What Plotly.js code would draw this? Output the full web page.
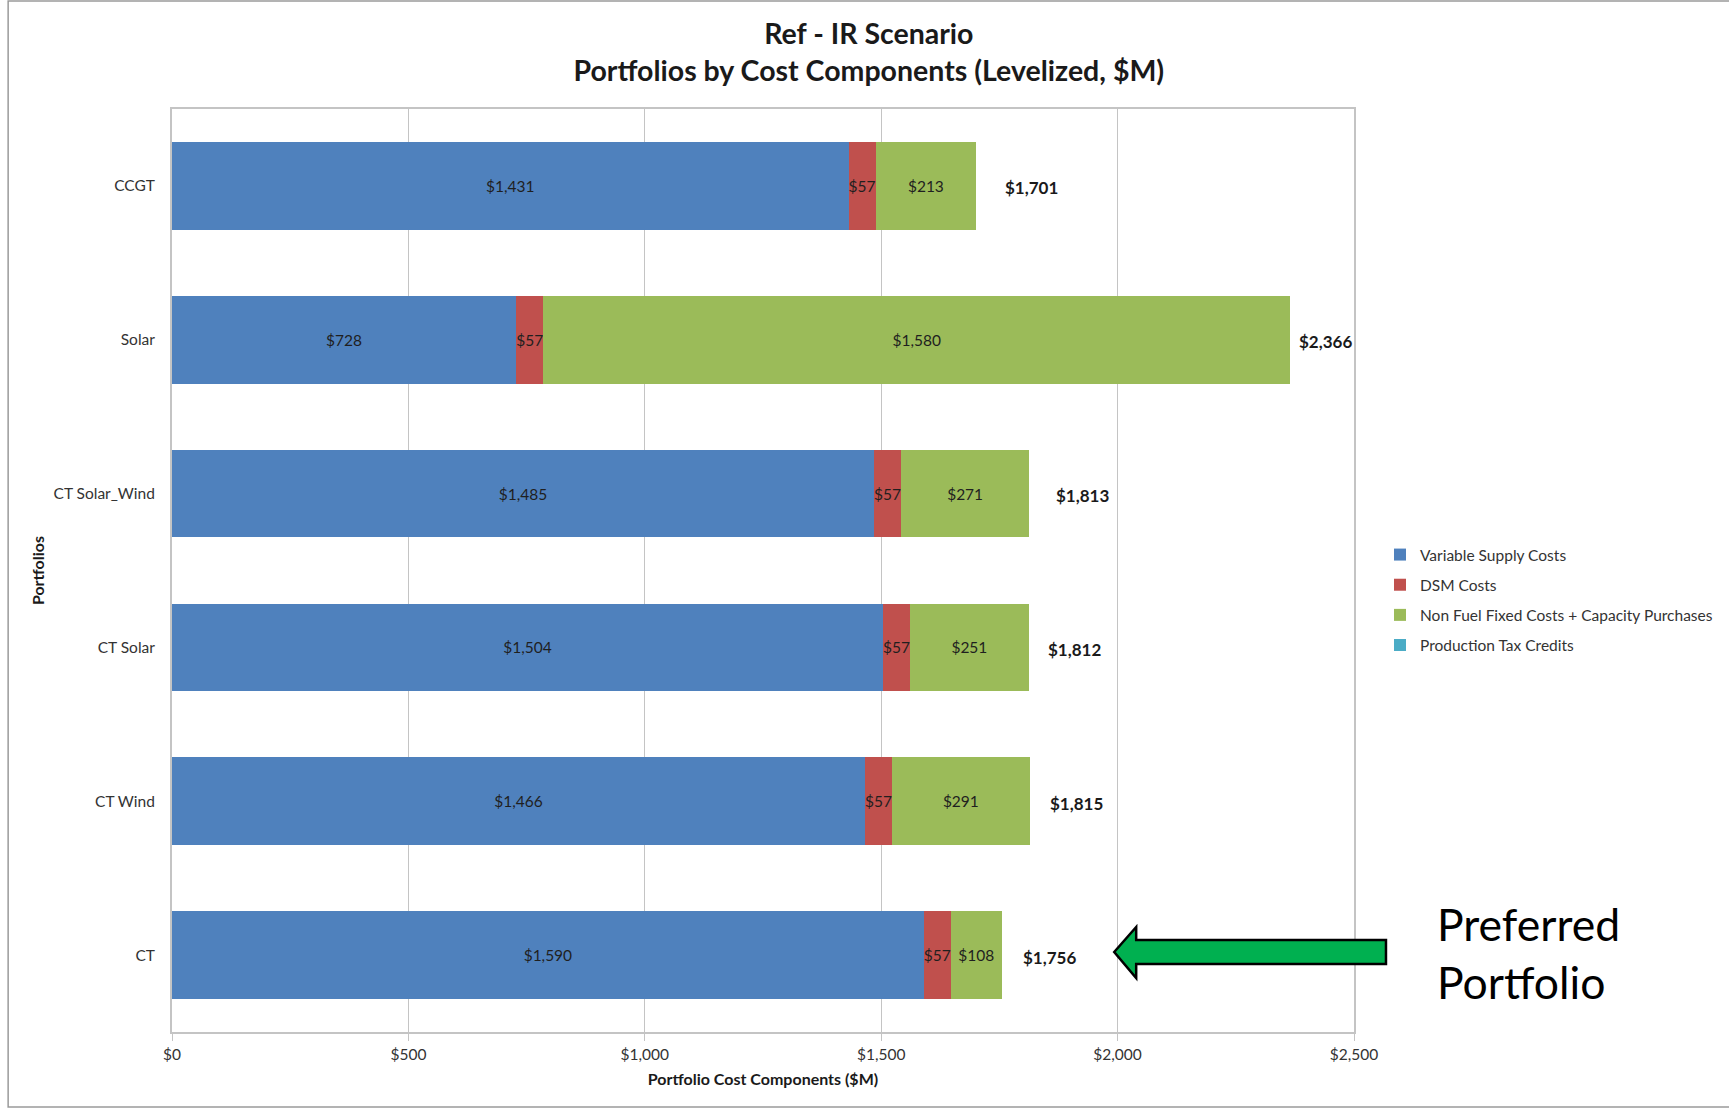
<!DOCTYPE html>
<html>
<head>
<meta charset="utf-8">
<script src="https://cdn.plot.ly/plotly-3.0.1.min.js"></script>
<style>
  html, body { margin: 0; padding: 0; background: #ffffff; }
  #chart { width: 1729px; height: 1109px; }
</style>
</head>
<body>
<div id="chart"></div>
<script>
// Portfolios, top to bottom
const portfolios = ['CCGT', 'Solar', 'CT Solar_Wind', 'CT Solar', 'CT Wind', 'CT'];

// Levelized cost components, $M
const variableSupply = [1431, 728, 1485, 1504, 1466, 1590];
const dsmCosts       = [57, 57, 57, 57, 57, 57];
const nonFuelFixed   = [213, 1580, 271, 251, 291, 108];
const prodTaxCredits = [0, 0, 0, 0, 0, 0];

// Portfolio totals as labelled
const totals = [1701, 2366, 1813, 1812, 1815, 1756];

// Axis ticks
const tickValues = [0, 500, 1000, 1500, 2000, 2500];
const tickLabels = ['$0', '$500', '$1,000', '$1,500', '$2,000', '$2,500'];

// ---- layout geometry (pixels) ----
const W = 1729, H = 1109;
const M = { l: 172, r: 374, t: 109, b: 77 };
const plotW = W - M.l - M.r, plotH = H - M.t - M.b;
const px = x => (x - M.l) / plotW;          // pixel x -> paper x
const py = y => (H - M.b - y) / plotH;      // pixel y -> paper y

const FONT = 'Lato, "Open Sans", "DejaVu Sans", sans-serif';
const money = v => '$' + v.toLocaleString('en-US');

// gap between bar end and its total label
const totalGap = [27, 6, 25, 17, 18, 19];

function barTrace(name, values, color, showText) {
  return {
    type: 'bar',
    orientation: 'h',
    name: name,
    legendgroup: name,
    x: values,
    y: portfolios,
    marker: { color: color, line: { width: 0 } },
    text: showText ? values.map(money) : null,
    textposition: showText ? 'inside' : 'none',
    insidetextanchor: 'middle',
    textangle: 0,
    constraintext: 'none',
    textfont: { family: FONT, size: 15.5, color: '#1f1f1f' },
    hoverinfo: 'x+y+name'
  };
}

const traces = [
  barTrace('Variable Supply Costs', variableSupply, '#4F81BD', true),
  barTrace('DSM Costs', dsmCosts, '#C0504D', true),
  barTrace('Non Fuel Fixed Costs + Capacity Purchases', nonFuelFixed, '#9BBB59', true),
  barTrace('Production Tax Credits', prodTaxCredits, '#4BACC6', false)
];

const annotations = totals.map((t, i) => ({
  x: t, y: portfolios[i], xref: 'x', yref: 'y',
  text: '<b>' + money(t) + '</b>',
  showarrow: false, xanchor: 'left', yanchor: 'middle',
  xshift: totalGap[i], yshift: -2,
  font: { family: FONT, size: 17, color: '#1a1a1a' }
}));

annotations.push({
  xref: 'paper', yref: 'paper',
  x: px(1436), y: py(952),
  xanchor: 'left', yanchor: 'middle',
  align: 'left',
  text: 'Preferred<br>Portfolio',
  showarrow: false,
  font: { family: FONT, size: 44.5, color: '#000000' }
});

// Block arrow pointing at the preferred portfolio
const arrowPts = [
  [1115, 952], [1137, 927], [1137, 940], [1387, 940],
  [1387, 964], [1137, 964], [1137, 978]
];
const arrowPath = 'M' + arrowPts.map(p => px(p[0]) + ',' + py(p[1])).join('L') + 'Z';

const shapes = [
  {
    type: 'rect', xref: 'paper', yref: 'paper', layer: 'below',
    x0: px(8), x1: px(1745), y0: py(1107), y1: py(1),
    line: { color: '#9a9a9a', width: 1.5 }, fillcolor: 'rgba(0,0,0,0)'
  },
  {
    type: 'path', xref: 'paper', yref: 'paper',
    path: arrowPath,
    fillcolor: '#00B050',
    line: { color: '#000000', width: 2.5 }
  }
];

const layout = {
  width: W, height: H,
  margin: M,
  paper_bgcolor: '#ffffff',
  plot_bgcolor: '#ffffff',
  font: { family: FONT, color: '#333333', size: 15 },
  barmode: 'stack',
  bargap: 0.43,
  title: {
    text: '<b>Ref - IR Scenario</b><br><b>Portfolios by Cost Components (Levelized, $M)</b>',
    font: { family: FONT, size: 28.5, color: '#1a1a1a' },
    xref: 'container', x: 0.5025,
    yref: 'container', y: 1 - 44 / H, yanchor: 'middle'
  },
  xaxis: {
    range: [0, 2500],
    tickvals: tickValues,
    ticktext: tickLabels,
    showgrid: true, gridcolor: '#C4C4C4', gridwidth: 1.3,
    zeroline: false,
    showline: true, linecolor: '#C4C4C4', linewidth: 2, mirror: true,
    ticks: 'outside', ticklen: 7, tickcolor: '#C4C4C4',
    tickfont: { family: FONT, size: 15.5, color: '#333333' },
    title: {
      text: '<b>Portfolio Cost Components ($M)</b>',
      font: { family: FONT, size: 16, color: '#1a1a1a' },
      standoff: 12
    },
    fixedrange: true
  },
  yaxis: {
    type: 'category',
    categoryorder: 'array',
    categoryarray: portfolios,
    autorange: 'reversed',
    showgrid: false, zeroline: false,
    showline: true, linecolor: '#C4C4C4', linewidth: 2, mirror: true,
    ticks: '',
    ticklabelstandoff: 12,
    tickfont: { family: FONT, size: 15.5, color: '#333333' },
    title: {
      text: '<b>Portfolios</b>',
      font: { family: FONT, size: 16, color: '#1a1a1a' },
      standoff: 5
    },
    fixedrange: true
  },
  legend: {
    x: px(1380), xanchor: 'left',
    y: py(538), yanchor: 'top',
    traceorder: 'grouped',
    tracegroupgap: 7,
    font: { family: FONT, size: 15.5, color: '#333333' },
    bgcolor: 'rgba(0,0,0,0)'
  },
  showlegend: true,
  annotations: annotations,
  shapes: shapes
};

Plotly.newPlot('chart', traces, layout, { displayModeBar: false, staticPlot: true });
</script>
</body>
</html>
